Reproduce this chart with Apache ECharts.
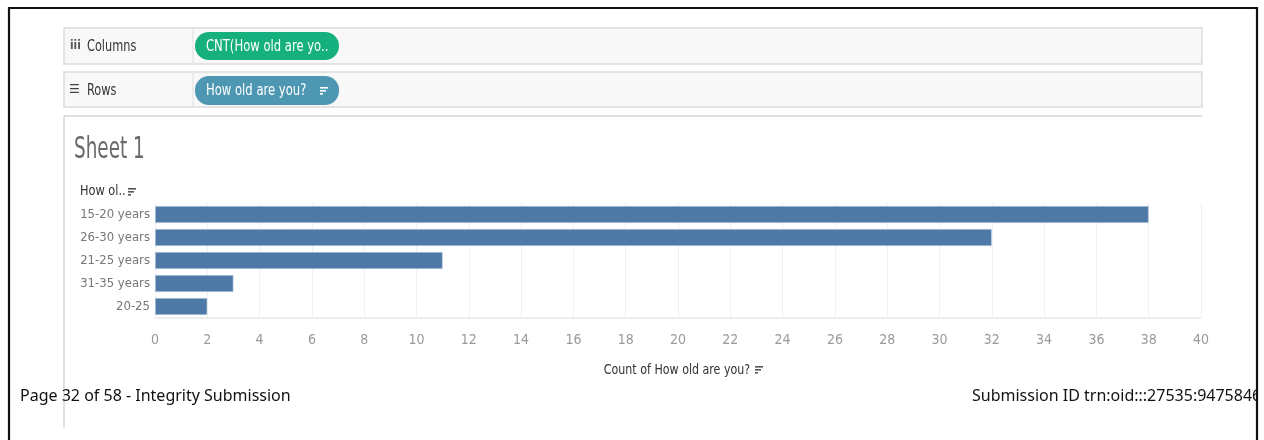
<!DOCTYPE html>
<html><head><meta charset="utf-8">
<script src="https://cdn.jsdelivr.net/npm/echarts@6/dist/echarts.min.js"></script>
<style>html,body{margin:0;padding:0;background:#fff}#c{width:1264px;height:440px}</style>
</head><body><div id="c"></div>
<script>
const categories = ["15-20 years", "26-30 years", "21-25 years", "31-35 years", "20-25"];
const counts = [38, 32, 11, 3, 2];
const xTicks = [0, 40, 2];

const NARROW = "'DejaVu Sans Condensed','DejaVu Sans',sans-serif";
const chart = echarts.init(document.getElementById('c'), null, {renderer: 'canvas'});

function sortIcon(x, y, color) {
  return [
    {type:'rect', shape:{x:x, y:y, width:8, height:1.6}, style:{fill:color}},
    {type:'rect', shape:{x:x, y:y+3, width:6, height:1.6}, style:{fill:color}},
    {type:'rect', shape:{x:x, y:y+6, width:3, height:1.6}, style:{fill:color}}
  ];
}
function txt(x, y, s, font, fill, sx, align) {
  return {type:'text', x:x, y:y, scaleX:sx, style:{text:s, font:font, fill:fill, verticalAlign:'middle', align:align || 'left'}};
}

const graphics = [
  // shelves
  {type:'rect', shape:{x:64, y:28, width:1138, height:36}, style:{fill:'#f8f8f8', stroke:'#dcdcdc', lineWidth:1.5}},
  {type:'line', shape:{x1:193, y1:28, x2:193, y2:64}, style:{stroke:'#e0e0e0', lineWidth:1}},
  {type:'rect', shape:{x:64, y:72, width:1138, height:35}, style:{fill:'#f8f8f8', stroke:'#dcdcdc', lineWidth:1.5}},
  {type:'line', shape:{x1:193, y1:72, x2:193, y2:107}, style:{stroke:'#e0e0e0', lineWidth:1}},
  txt(70, 46, 'iii', 'bold 13px ' + NARROW, '#555', 0.9),
  txt(87, 47, 'Columns', '15px ' + NARROW, '#333', 0.84),
  {type:'text', x:69, y:90, style:{text:'\u2630', font:'12px DejaVu Sans', fill:'#444', verticalAlign:'middle'}},
  txt(87, 91, 'Rows', '15px ' + NARROW, '#333', 0.84),
  // pills
  {type:'rect', shape:{x:195, y:32, width:144, height:28, r:14}, style:{fill:'#15b07e'}},
  txt(206, 47, 'CNT(How old are yo..', '15px ' + NARROW, '#fff', 0.86),
  {type:'rect', shape:{x:195, y:76, width:144, height:29, r:14}, style:{fill:'#4e97b3'}},
  txt(206, 91, 'How old are you?', '15px ' + NARROW, '#fff', 0.86),
  ...sortIcon(320, 87, '#fff'),
  // sheet pane
  {type:'line', shape:{x1:64, y1:116, x2:1202, y2:116}, style:{stroke:'#d4d4d4', lineWidth:1.5}},
  {type:'line', shape:{x1:64, y1:116, x2:64, y2:428}, style:{stroke:'#d4d4d4', lineWidth:1.5}},
  txt(74, 150, 'Sheet 1', '31px ' + NARROW, '#6a6a6a', 0.66),
  txt(80, 191, 'How ol..', '14px ' + NARROW, '#333', 0.9),
  ...sortIcon(128, 188, '#555'),
  txt(677, 370, 'Count of How old are you?', '14px ' + NARROW, '#333', 0.88, 'center'),
  ...sortIcon(755, 366, '#555'),
  // footer
  {type:'text', x:20, y:396, style:{text:'Page 32 of 58 - Integrity Submission', font:'16px "Noto Sans"', fill:'#111', verticalAlign:'middle'}},
  {type:'text', x:972, y:396, style:{text:'Submission ID trn:oid:::27535:94758460', font:'16px "Noto Sans"', fill:'#111', verticalAlign:'middle'}},
  {type:'rect', shape:{x:1258, y:0, width:10, height:440}, style:{fill:'#fff'}},
  // outer border
  {type:'polyline', shape:{points:[[9,441],[9,8],[1257,8],[1257,441]]}, style:{stroke:'#111', lineWidth:2.2, fill:null}}
];

chart.setOption({
  animation: false,
  backgroundColor: '#fff',
  grid: {left: 155, right: 63, top: 203, bottom: 122, containLabel: false},
  xAxis: {
    type: 'value', min: xTicks[0], max: xTicks[1], interval: xTicks[2],
    axisLine: {show: true, lineStyle: {color: '#e8e8e8', width: 1.5}},
    axisTick: {show: false},
    splitLine: {show: true, lineStyle: {color: '#f0f0f0', width: 1}},
    axisLabel: {color: '#9a9a9a', fontFamily: NARROW, fontSize: 14, margin: 15}
  },
  yAxis: {
    type: 'category', data: categories, inverse: true,
    axisLine: {show: false}, axisTick: {show: false},
    axisLabel: {color: '#777', fontFamily: NARROW, fontSize: 13, margin: 5}
  },
  series: [{
    type: 'bar', data: counts, barWidth: 17,
    itemStyle: {color: '#4e79a7', borderColor: '#c9d6e6', borderWidth: 0.6}
  }],
  graphic: {elements: graphics}
});
</script></body></html>
